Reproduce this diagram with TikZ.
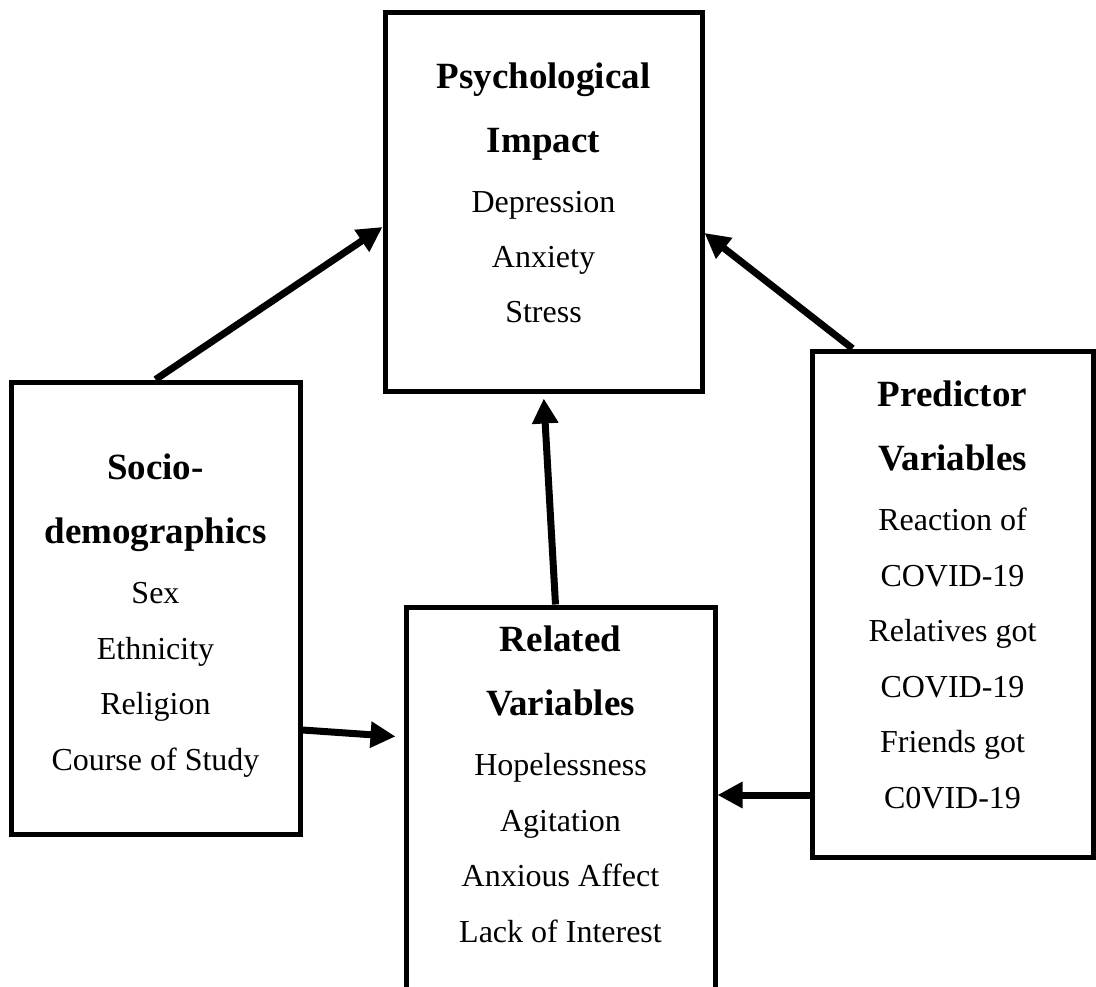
\documentclass[tikz,border=0pt]{standalone}
\usepackage{fontspec}
\setmainfont{Liberation Serif}
\usetikzlibrary{arrows.meta}
\newcommand\vartitle[1]{{\fontsize{37}{55.5}\selectfont\bfseries #1}}

\begin{document}
\begin{tikzpicture}[x=1pt,y=-1pt,>={Triangle[length=25pt,width=25pt]},
            box/.style={draw,line width=5pt,inner sep=0pt},
            txt/.style={align=center,inner sep=0pt,anchor=base,
                font=\fontsize{32}{55.5}\selectfont},
            link/.style={->,line width=7pt}]
            \useasboundingbox (0,0) rectangle (1096,987);
            \node[box,minimum width=317pt,minimum height=378pt] (psych) at (543.5,202) {};
            \node[box,minimum width=289pt,minimum height=452pt] (socio) at (155.5,608) {};
            \node[box,minimum width=309pt,minimum height=423pt] (related) at (560.5,818.5) {};
            \node[box,minimum width=281pt,minimum height=506pt] (predictor) at (952.5,604) {};
            %\draw[gray!50] (0,0) grid[step=100] (1096,987);
            \node[txt] (psych-t) at ([yshift=-312.5pt]psych.north)
            {\vartitle{Psychological}\\[8.5pt]\vartitle{Impact}\\[4.5pt]Depression\\Anxiety\\Stress};
            \node[txt] (socio-t) at ([yshift=-390.5pt]socio.north)
            {\vartitle{Socio-}\\[8.5pt]\vartitle{demographics}\\[4.5pt]Sex\\Ethnicity\\Religion\\Course of Study};
            \node[txt] (related-t) at ([yshift=-337.5pt]related.north)
            {\vartitle{Related}\\[8.5pt]\vartitle{Variables}\\[4.5pt]Hopelessness\\Agitation\\Anxious Affect\\Lack of Interest};
            \node[txt] (predictor-t) at ([yshift=-459.5pt]predictor.north)
            {\vartitle{Predictor}\\[8.5pt]\vartitle{Variables}\\[4.5pt]Reaction of\\COVID-19\\Relatives got\\COVID-19\\Friends got\\C0VID-19};
            \draw[link] (socio.north) -- ([yshift=-25pt]psych.west);
            \draw[link,shorten >=5pt] ([xshift=-5pt]related.north) -- (psych.south);
            \draw[link] ([xshift=-100pt]predictor.north) -- ([yshift=-31pt]psych.east);
            \draw[link,shorten >=8pt] ([yshift=-122pt]socio.east) -- ([yshift=-132.5pt]related.north west);
            \coordinate (pw) at ([yshift=-191pt]predictor.west);
            \draw[link] (pw) -- (pw -| related.east);
\end{tikzpicture}
\end{document}
